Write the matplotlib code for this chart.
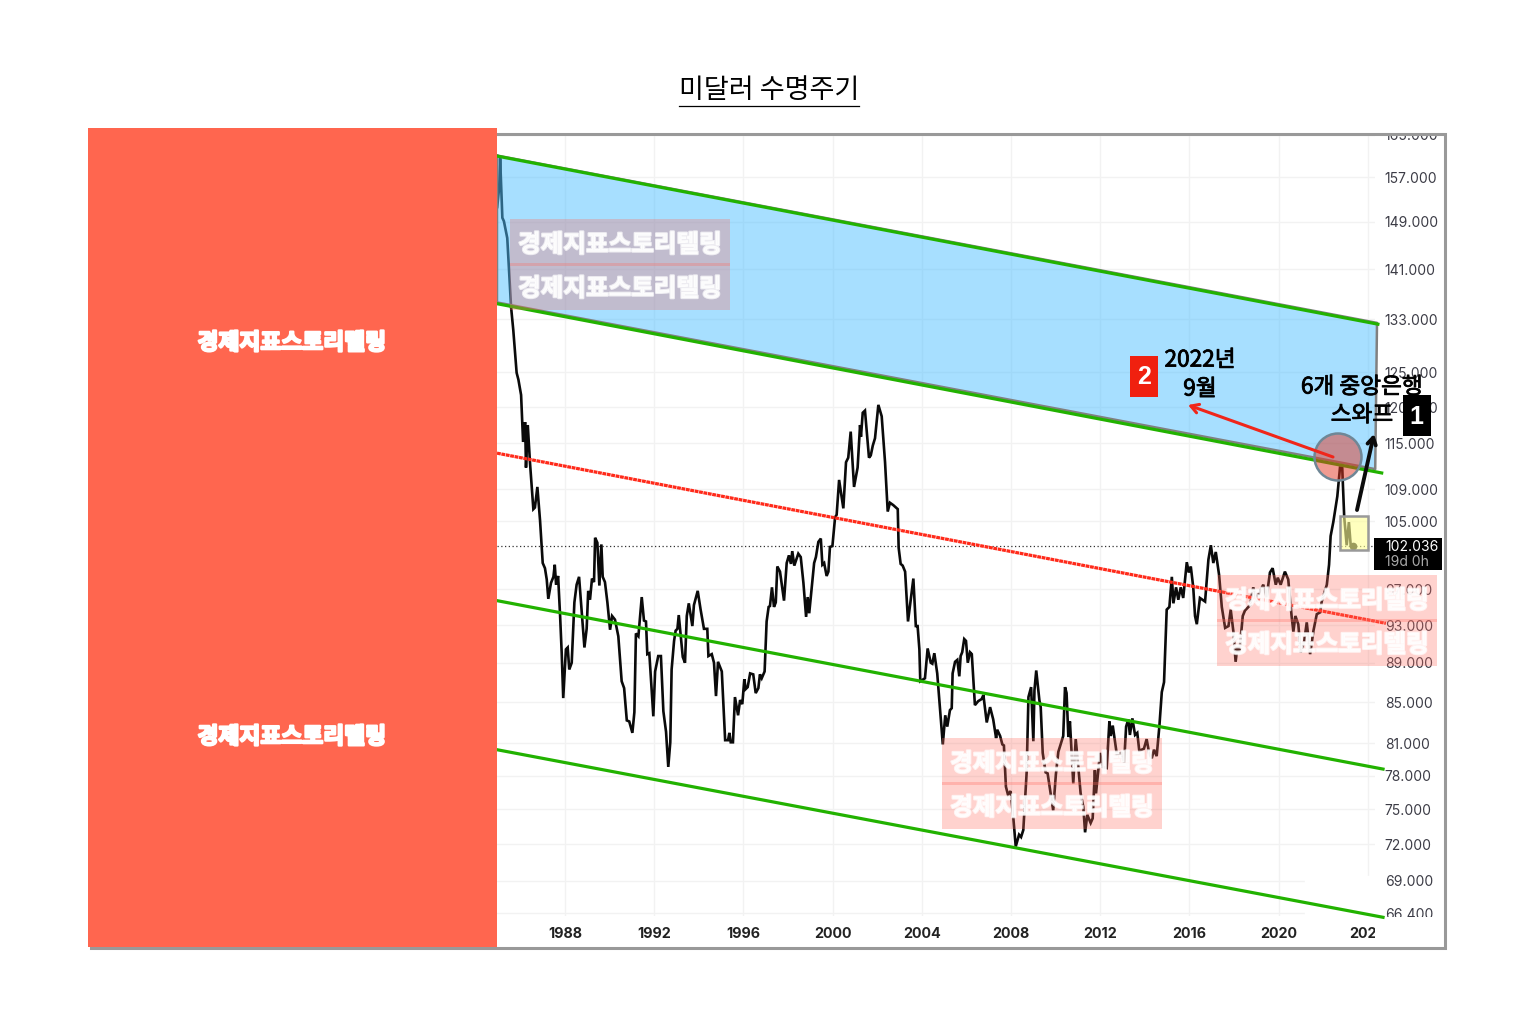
import matplotlib
matplotlib.use('Agg')
import matplotlib.pyplot as plt
import matplotlib.patheffects as pe
from matplotlib.patches import Rectangle, Circle
from matplotlib.transforms import Bbox

plt.rcParams['font.family'] = ['Noto Sans CJK KR', 'DejaVu Sans']

W, H = 1528, 1034

# dollar index
anos = [1984.96, 1985.05, 1985.09, 1985.19, 1985.26, 1985.41, 1985.53, 1985.58, 1985.68, 1985.83, 1985.91,
        1986.03, 1986.12, 1986.21, 1986.25, 1986.33, 1986.43, 1986.58, 1986.65, 1986.76, 1986.88,
        1987.00, 1987.10, 1987.18, 1987.25, 1987.37, 1987.48, 1987.54, 1987.60, 1987.69, 1987.78, 1987.85, 1987.92,
        1988.04, 1988.12, 1988.19, 1988.30, 1988.42, 1988.52, 1988.63, 1988.75, 1988.87, 1988.97,
        1989.04, 1989.12, 1989.21, 1989.30, 1989.35, 1989.45, 1989.54, 1989.63, 1989.69, 1989.79, 1989.90,
        1990.02, 1990.11, 1990.24, 1990.39, 1990.54, 1990.65, 1990.77, 1990.88,
        1991.02, 1991.11, 1991.18, 1991.29, 1991.44, 1991.54, 1991.63, 1991.69, 1991.78, 1991.96,
        1992.04, 1992.18, 1992.30, 1992.41, 1992.53, 1992.63, 1992.72, 1992.78, 1992.89, 1992.96,
        1993.04, 1993.10, 1993.19, 1993.28, 1993.38, 1993.46, 1993.55, 1993.71, 1993.78, 1993.95,
        1994.08, 1994.23, 1994.38, 1994.43, 1994.58, 1994.68, 1994.77, 1994.86,
        1995.03, 1995.18, 1995.31, 1995.37, 1995.43, 1995.53, 1995.62, 1995.76, 1995.85, 1995.95,
        1996.04, 1996.10, 1996.19, 1996.30, 1996.44, 1996.55, 1996.67, 1996.74, 1996.82, 1996.95,
        1997.04, 1997.13, 1997.19, 1997.28, 1997.37, 1997.45, 1997.52, 1997.64, 1997.82, 1997.94,
        1998.04, 1998.13, 1998.19, 1998.28, 1998.46, 1998.57, 1998.69, 1998.81, 1998.88, 1998.95,
        1999.17, 1999.25, 1999.36, 1999.47, 1999.54, 1999.62, 1999.73, 1999.81, 1999.88, 1999.99,
        2000.11, 2000.18, 2000.29, 2000.48, 2000.60, 2000.70, 2000.81, 2000.96,
        2001.12, 2001.23, 2001.27, 2001.35, 2001.45, 2001.63, 2001.71, 2001.80, 2001.90,
        2002.05, 2002.20, 2002.35, 2002.47, 2002.57, 2002.72, 2002.92, 2002.96,
        2003.05, 2003.14, 2003.25, 2003.38, 2003.62, 2003.73, 2003.81, 2003.89, 2003.93,
        2004.07, 2004.14, 2004.26, 2004.40, 2004.47, 2004.56, 2004.69, 2004.81, 2004.94,
        2005.05, 2005.14, 2005.26, 2005.34, 2005.38, 2005.49, 2005.59, 2005.68, 2005.74, 2005.81, 2005.90, 2005.98,
        2006.06, 2006.16, 2006.24, 2006.38, 2006.53, 2006.68, 2006.76, 2006.91,
        2007.06, 2007.20, 2007.33, 2007.38, 2007.51, 2007.61, 2007.68, 2007.77, 2007.86, 2007.98,
        2008.10, 2008.21, 2008.36, 2008.45, 2008.55, 2008.70, 2008.78, 2008.90,
        2009.00, 2009.05, 2009.13, 2009.27, 2009.33, 2009.42, 2009.55, 2009.64, 2009.89,
        2010.01, 2010.12, 2010.34, 2010.42, 2010.49, 2010.57, 2010.64, 2010.79, 2010.90,
        2011.02, 2011.12, 2011.24, 2011.32, 2011.42, 2011.57, 2011.66, 2011.76, 2011.81, 2011.99,
        2012.11, 2012.29, 2012.41, 2012.47, 2012.56, 2012.74, 2012.96,
        2013.07, 2013.16, 2013.26, 2013.33, 2013.44, 2013.56, 2013.66, 2013.75, 2013.96,
        2014.08, 2014.20, 2014.31, 2014.41, 2014.53, 2014.65, 2014.76, 2014.86, 2014.98,
        2015.10, 2015.21, 2015.28, 2015.40, 2015.50, 2015.61, 2015.72, 2015.88, 2015.97,
        2016.06, 2016.17, 2016.25, 2016.33, 2016.47, 2016.70, 2016.85, 2016.96,
        2017.07, 2017.18, 2017.33, 2017.45, 2017.60, 2017.75, 2017.85, 2017.97,
        2018.07, 2018.15, 2018.24, 2018.39, 2018.49, 2018.72, 2018.86,
        2019.02, 2019.09, 2019.31, 2019.46, 2019.61, 2019.73, 2019.87, 2019.96,
        2020.09, 2020.28, 2020.43, 2020.58, 2020.66, 2020.75, 2020.88, 2020.99,
        2021.14, 2021.26, 2021.41, 2021.56, 2021.71, 2021.86, 2021.93,
        2022.16, 2022.26, 2022.33, 2022.45, 2022.63, 2022.75, 2022.85, 2022.94,
        2023.05, 2023.15, 2023.23, 2023.32]
precio = [151.6, 155.2, 160.5, 149.7, 149.1, 146.2, 138.1, 134.9, 131.3, 124.9, 123.9,
          121.7, 115.2, 117.9, 111.8, 117.5, 112.4, 106.5, 106.7, 109.3, 105.1,
          100.0, 99.4, 98.1, 95.9, 97.7, 98.4, 99.8, 97.5, 98.5, 94.0, 90.1, 85.4,
          90.4, 90.6, 88.3, 89.0, 95.5, 97.5, 98.4, 94.4, 90.6, 92.6,
          96.8, 95.8, 98.2, 97.8, 103.0, 102.4, 97.4, 102.2, 98.4, 97.8, 95.5,
          92.5, 94.0, 93.6, 91.8, 87.1, 86.4, 83.2, 83.1,
          82.0, 84.0, 92.1, 91.8, 96.1, 93.5, 93.4, 89.9, 90.0, 83.6,
          88.1, 89.7, 89.7, 84.1, 82.1, 78.8, 81.1, 88.3, 91.3, 92.4,
          92.6, 94.1, 91.8, 89.6, 89.0, 94.0, 95.4, 92.9, 95.2, 96.8,
          94.7, 92.6, 92.6, 89.7, 89.9, 89.0, 85.6, 89.1,
          88.1, 81.3, 81.3, 82.0, 81.1, 81.1, 85.5, 83.7, 85.2, 84.8,
          87.3, 86.3, 86.5, 87.9, 87.8, 85.9, 86.4, 87.8, 87.4, 88.1,
          93.4, 95.0, 95.1, 97.2, 95.0, 95.5, 99.6, 99.0, 95.7, 100.0,
          100.9, 99.9, 101.4, 99.7, 101.1, 100.7, 97.7, 93.9, 96.1, 94.3,
          100.0, 100.7, 102.5, 102.9, 99.8, 100.0, 98.5, 99.0, 101.9, 102.0,
          105.5, 105.8, 110.2, 106.6, 112.5, 113.1, 116.6, 109.3,
          111.8, 117.5, 115.9, 119.2, 119.5, 113.1, 113.4, 114.7, 115.7,
          120.3, 118.7, 112.5, 106.2, 107.3, 107.0, 106.5, 101.8,
          99.9, 99.7, 99.0, 93.4, 98.2, 92.9, 92.9, 90.4, 87.1,
          87.3, 87.4, 90.5, 89.0, 88.9, 90.0, 87.9, 84.5, 80.9,
          83.7, 82.6, 84.2, 84.4, 87.9, 89.1, 89.3, 87.6, 89.7, 90.1, 91.5, 91.3,
          89.0, 90.1, 89.9, 84.7, 85.1, 85.3, 85.7, 83.0,
          84.5, 83.3, 81.5, 82.3, 81.7, 80.9, 80.8, 77.0, 76.3, 76.6,
          74.3, 71.8, 72.8, 72.6, 73.2, 78.3, 85.5, 86.5,
          81.2, 86.2, 88.2, 85.2, 84.5, 80.1, 78.3, 78.2, 74.9,
          78.1, 80.2, 81.7, 86.5, 85.9, 81.6, 83.1, 77.3, 81.4,
          78.7, 76.4, 75.2, 73.0, 74.5, 73.8, 74.2, 78.5, 76.4, 80.1,
          78.8, 78.7, 83.1, 81.7, 82.7, 80.0, 80.1,
          79.2, 82.6, 83.3, 81.8, 83.4, 81.8, 82.0, 80.3, 80.5,
          81.4, 80.0, 79.6, 80.4, 79.8, 82.6, 86.0, 87.0, 94.7,
          95.0, 98.4, 95.4, 97.2, 95.8, 97.2, 96.0, 100.1, 98.9,
          99.6, 97.2, 94.0, 93.1, 96.0, 95.6, 100.4, 102.1,
          100.0, 101.3, 98.6, 95.0, 92.7, 92.9, 94.7, 92.3,
          89.1, 90.7, 90.1, 94.0, 94.6, 95.2, 97.2,
          95.6, 96.4, 97.5, 96.1, 98.9, 99.4, 97.5, 98.3,
          97.5, 99.0, 98.1, 94.0, 92.3, 94.0, 93.1, 90.1,
          91.2, 93.3, 89.9, 92.4, 94.2, 94.4, 95.6,
          97.5, 99.8, 103.2, 104.9, 108.1, 111.8, 111.8, 105.5,
          102.1, 104.9, 102.1, 102.04]

precio_actual = 102.036

# trend lines: two years and the price at each end
anos_canal = [1984.95, 2024.45]
canal_arriba = [160.9, 132.2]
canal_abajo = [135.4, 111.1]
anos_abajo = [1984.95, 2024.62]
anos_rojo = [1984.95, 2024.81]
linea_roja = [113.7, 93.2]
anos_verde = [1984.95, 2024.68]
verde_3 = [95.7, 78.6]
verde_4 = [80.4, 66.1]

# blue band corners
banda_x = [1984.95, 2024.41, 2024.33, 1984.95]
banda_y = [161.0, 132.4, 111.6, 135.6]

ticks_y = [165, 157, 149, 141, 133, 125, 120, 115, 109, 105, 97, 93, 89, 85, 81, 78, 75, 72, 69, 66.4]
etiquetas_y = ['%.3f' % v for v in ticks_y]
ticks_x = list(range(1988, 2025, 4))
etiquetas_x = [str(a) for a in ticks_x]

marca = '경제지표스토리텔링'
fuente_num = ['Inter', 'DejaVu Sans']

fig = plt.figure(figsize=(W / 100, H / 100), dpi=100, facecolor='white')
ax = fig.add_axes([497 / W, 1 - 916 / H, (1375 - 497) / W, (916 - 134) / H])
ax.set_yscale('log')
ax.set_xlim(1984.95, 2024.32)
ax.set_ylim(66.2, 165.1)
for s in ax.spines.values():
    s.set_visible(False)
ax.yaxis.tick_right()
ax.set_yticks(ticks_y, etiquetas_y)
ax.minorticks_off()
ax.set_xticks(ticks_x, etiquetas_x)
ax.tick_params(axis='y', length=0, pad=7, labelsize=10, labelcolor='#3c3c46')
ax.tick_params(axis='x', length=0, pad=8, labelsize=10.3, labelcolor='#222222')
ax.grid(True, color='#f2f2f2', lw=1)
ax.set_axisbelow(True)

# the labels get cut in the original
caja_y = Bbox([[1375, H - 917], [W, H - 134]])
caja_x = Bbox([[497, 0], [1375, H]])
for t in ax.get_yticklabels():
    t.set_fontfamily(fuente_num)
    t.set_clip_box(caja_y)
    t.set_clip_on(True)
for t in ax.get_xticklabels():
    t.set_fontfamily(fuente_num)
    t.set_fontweight('bold')
    t.set_clip_box(caja_x)
    t.set_clip_on(True)

# corner where the grid stops
ax.fill([2021.18, 2024.32, 2024.32, 2021.18], [66.2, 66.2, 69.4, 69.4], color='white', zorder=1)

ax.axhline(precio_actual, color='#333333', lw=0.9, ls=(0, (1, 2)), zorder=2)
ax.plot(anos, precio, color='#0a0a0a', lw=1.9, zorder=3, solid_joinstyle='miter')
ax.plot(anos[-1], precio[-1], 'o', color='#0a0a0a', ms=4.5, zorder=3)

ax.fill(banda_x, banda_y, facecolor='#50c0ff', alpha=0.5, edgecolor='none', zorder=4, clip_on=False)
ax.plot(banda_x + banda_x[:1], banda_y + banda_y[:1], color='#808080', lw=1.8, zorder=5, clip_on=False)

verde = '#22b200'
ax.plot(anos_canal, canal_arriba, color=verde, lw=2.3, zorder=6, clip_on=False)
ax.plot(anos_abajo, canal_abajo, color=verde, lw=2.3, zorder=6, clip_on=False)
ax.plot(anos_rojo, linea_roja, color='#ff2a1a', lw=2.3, ls=(0, (1.2, 0.2)), zorder=6, clip_on=False)
ax.plot(anos_verde, verde_3, color=verde, lw=2.3, zorder=6, clip_on=False)
ax.plot(anos_verde, verde_4, color=verde, lw=2.3, zorder=6, clip_on=False)

# everything pasted on top goes in a pixel layer
ov = fig.add_axes([0, 0, 1, 1])
ov.set_xlim(0, W)
ov.set_ylim(H, 0)
ov.axis('off')
ov.patch.set_visible(False)


def caja(x0, y0, x1, y1, **kw):
    ov.add_patch(Rectangle((x0, y0), x1 - x0, y1 - y0, **kw))


def sello(x, y):
    # two stacked stamps, they overlap a bit in the middle
    caja(x, y, x + 220, y + 47, facecolor='#ff6b5f', alpha=0.3, edgecolor='none')
    caja(x, y + 44, x + 220, y + 91, facecolor='#ff6b5f', alpha=0.3, edgecolor='none')
    for dy in (26, 70):
        ov.text(x + 110, y + dy, marca, color=(1, 1, 1, 0.72), fontsize=17.7, fontweight='bold',
                ha='center', va='center',
                path_effects=[pe.withStroke(linewidth=1.6, foreground=(1, 1, 1, 0.72))])


sello(510, 219)
sello(942, 738)
sello(1217, 575)

ov.add_patch(Circle((1338, 457), 23.5, facecolor=(0.886, 0.22, 0.14, 0.5), edgecolor='#6f8796', lw=1.8))
caja(1340, 516, 1368, 550, facecolor=(1, 1, 0.58, 0.6), edgecolor='#999999', lw=1.8)

# price tag on the axis
caja(1374, 538, 1442, 570, facecolor='black', edgecolor='none')
ov.text(1385, 547, '102.036', color='white', fontsize=10, family=fuente_num, va='center')
ov.text(1385, 562, '19d 0h', color='#aaaaaa', fontsize=10, family=fuente_num, va='center')

ov.annotate('', xy=(1188, 405), xytext=(1333, 457),
            arrowprops=dict(arrowstyle='->,head_length=0.55,head_width=0.32', color='#f0261a', lw=2.2,
                            shrinkA=0, shrinkB=0))
ov.annotate('', xy=(1374, 434), xytext=(1357, 510),
            arrowprops=dict(arrowstyle='->,head_length=0.5,head_width=0.3', color='#0a0a0a', lw=2.8,
                            shrinkA=0, shrinkB=0))

for x, y, s in [(1200, 360, '2022년'), (1200, 389, '9월'), (1362, 387, '6개 중앙은행'), (1362, 415, '스와프')]:
    ov.text(x, y, s, fontsize=16.3, ha='center', va='center', color='black',
            path_effects=[pe.withStroke(linewidth=0.6, foreground='black')])

caja(1130, 356, 1158, 397, facecolor='#f0200f', edgecolor='none')
ov.text(1144, 377, '2', color='white', fontsize=18, fontweight='bold', family='Liberation Sans',
        ha='center', va='center')
caja(1403, 395, 1431, 436, facecolor='black', edgecolor='none')
ov.text(1416, 417, '1', color='white', fontsize=18, fontweight='bold', family='Liberation Sans',
        ha='center', va='center')

# frame, then the red block that hides the left part
caja(91, 134, 1445, 948, facecolor='none', edgecolor='#999999', lw=2.2)
caja(88, 128, 497, 947, facecolor='#ff664f', edgecolor='none')
for y in (343, 737):
    ov.text(292, y, marca, color='white', fontsize=16.4, fontweight='bold', ha='center', va='center',
            path_effects=[pe.withStroke(linewidth=1.6, foreground='white')])

ov.text(769, 91, '미달러 수명주기', fontsize=19.5, ha='center', va='center', color='black')
ov.plot([679, 859], [106, 106], color='black', lw=0.9)

fig.savefig('out.png', dpi=100)
